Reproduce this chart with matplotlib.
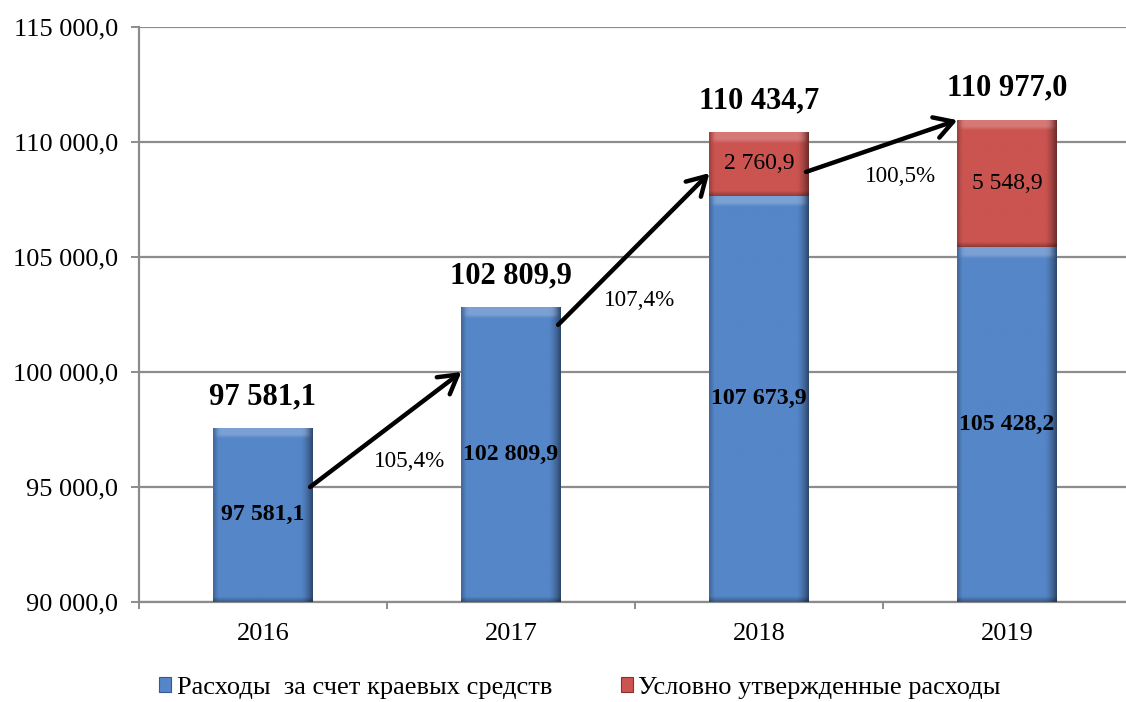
import numpy as np
import matplotlib
matplotlib.use("Agg")
import matplotlib.pyplot as plt
from matplotlib.patches import Patch
from matplotlib.colors import to_rgb

# ---------------- data ----------------
years = ["2016", "2017", "2018", "2019"]
regional = [97581.1, 102809.9, 107673.9, 105428.2]       # Расходы за счет краевых средств
conditional = [0.0, 0.0, 2760.9, 5548.9]                  # Условно утвержденные расходы
totals = [97581.1, 102809.9, 110434.7, 110977.0]
regional_labels = ["97 581,1", "102 809,9", "107 673,9", "105 428,2"]
conditional_labels = ["", "", "2 760,9", "5 548,9"]
total_labels = ["97 581,1", "102 809,9", "110 434,7", "110 977,0"]
growth_labels = ["105,4%", "107,4%", "100,5%"]
growth_label_x = [0.59, 1.52, 2.57]
growth_label_y = [96090, 103130, 108480]
arrow_start_y = [95000, 102050, 108700]
arrow_end_y = [100000, 108650, 110950]
yticks = [90000, 95000, 100000, 105000, 110000, 115000]
ytick_labels = ["90 000,0", "95 000,0", "100 000,0", "105 000,0", "110 000,0", "115 000,0"]
legend_labels = ["Расходы  за счет краевых средств", "Условно утвержденные расходы"]

BLUE = "#5586C8"
RED = "#CB5450"
GRID = "#8C8C8C"
FONT = ["Liberation Serif", "DejaVu Serif"]

plt.rcParams["font.family"] = FONT

fig = plt.figure(figsize=(11.26, 7.02), dpi=100)
ax = fig.add_axes([139 / 1126, 1 - 602 / 702, 1 - 139 / 1126, (602 - 27) / 702])

x = np.arange(len(years))
width = 0.40
ymin, ymax = 90000, 115000


def shade(ax, patches, color):
    base = np.array(to_rgb(color))
    for p in patches:
        if p.get_height() <= 0:
            continue
        bx, by = p.get_x(), p.get_y()
        bw, bh = p.get_width(), p.get_height()
        y0 = max(by, ymin)
        y1 = by + bh
        nx, ny = 80, 300
        u = np.linspace(0, 1, nx)[None, :]
        hpx = (y1 - y0) / (ymax - ymin) * 575
        v = np.linspace(0, 1, ny)[:, None] * hpx  # px from top
        img = np.ones((ny, nx, 3)) * base
        fac = np.ones((ny, nx))
        fac *= 1 - 0.45 * np.clip((u - 0.88) / 0.12, 0, 1) ** 1.5
        fac *= 1 - 0.22 * np.clip((0.05 - u) / 0.05, 0, 1)
        vb = hpx - v
        fac *= 1 - 0.3 * np.clip((5 - vb) / 5, 0, 1)
        img = img * fac[..., None]
        # light top bevel band
        top = np.clip((11 - v) / 4, 0, 1) * np.clip(np.minimum(u, 1 - u) / 0.07, 0, 1)
        img = img + (1 - img) * 0.22 * top[..., None]
        img = np.clip(img, 0, 1)
        im = ax.imshow(img, extent=(bx, bx + bw, y0, y1), origin="upper",
                       aspect="auto", zorder=p.get_zorder() + 0.1, interpolation="bilinear")
        im.set_clip_path(p)


b1 = ax.bar(x, regional, width, bottom=0, color=BLUE, zorder=3, linewidth=0)
b2 = ax.bar(x, conditional, width, bottom=regional, color=RED, zorder=3, linewidth=0)
shade(ax, b1, BLUE)
shade(ax, b2, RED)

ax.set_xlim(-0.5, 3.48)
ax.set_ylim(ymin, ymax)

ax.set_yticks(yticks)
ax.set_yticklabels(ytick_labels)
ax.yaxis.grid(True, color=GRID, linewidth=1.6, zorder=0)
ax.set_axisbelow(True)
for s in ["top", "right"]:
    ax.spines[s].set_visible(False)
for s in ["left", "bottom"]:
    ax.spines[s].set_color(GRID)
    ax.spines[s].set_linewidth(1.6)
ax.tick_params(axis="y", length=6, width=1.4, color=GRID, pad=9, labelsize=19)
ax.set_xticks(x)
ax.set_xticklabels(years)
ax.tick_params(axis="x", which="major", length=0, pad=15, labelsize=19)
ax.set_xticks(np.arange(-0.5, 3.5, 1.0), minor=True)
ax.tick_params(axis="x", which="minor", length=5, width=1.4, color=GRID)

for i in range(len(years)):
    yc = (ymin + regional[i]) / 2
    ax.text(x[i], yc, regional_labels[i], ha="center", va="center",
            fontsize=17.2, fontweight="bold", zorder=6)
    if conditional[i] > 0:
        ax.text(x[i], regional[i] + conditional[i] / 2, conditional_labels[i],
                ha="center", va="center", fontsize=17, zorder=6)
    ax.annotate(total_labels[i], (x[i], totals[i]), xytext=(0, 12),
                textcoords="offset points", ha="center", va="bottom",
                fontsize=22, fontweight="bold", zorder=6)

for i in range(len(growth_labels)):
    ax.annotate("", xy=(x[i + 1] - width / 2, arrow_end_y[i]),
                xytext=(x[i] + width / 2 - 0.01, arrow_start_y[i]),
                arrowprops=dict(arrowstyle="->,head_length=0.6,head_width=0.35",
                                lw=3.2, color="black", mutation_scale=22,
                                shrinkA=0, shrinkB=0),
                zorder=7, annotation_clip=False)
    ax.text(growth_label_x[i], growth_label_y[i], growth_labels[i],
            ha="center", va="center", fontsize=16.7, zorder=6)

handles = [Patch(facecolor=BLUE, edgecolor="#2F5A94", linewidth=0.8),
           Patch(facecolor=RED, edgecolor="#8E2F2C", linewidth=0.8)]
fig.legend(handles, legend_labels, loc="center", bbox_to_anchor=(0.515, 0.02),
           ncol=2, frameon=False, fontsize=19, handlelength=0.45, handleheight=0.45,
           handletextpad=0.2, columnspacing=2.6, borderaxespad=0)

fig.savefig("out.png", dpi=100)
